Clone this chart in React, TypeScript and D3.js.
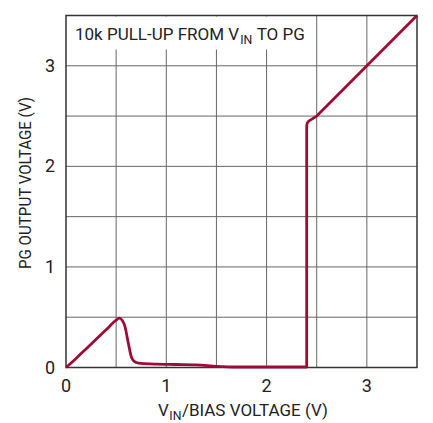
import React, { useLayoutEffect, useRef } from "react";
import * as d3 from "d3";

// PG output vs VIN/BIAS
// low part (before PG releases)
const vinLow = [0, 0.1, 0.2, 0.3, 0.4, 0.5, 0.53, 0.56, 0.59, 0.61, 0.63, 0.65, 0.67, 0.7, 0.75, 0.9, 1.1, 1.3, 1.5, 1.7, 2.0, 2.38, 2.4];
const pgLow = [0, 0.09, 0.185, 0.28, 0.375, 0.47, 0.49, 0.47, 0.4, 0.3, 0.2, 0.11, 0.07, 0.05, 0.04, 0.033, 0.03, 0.027, 0.012, 0.005, 0.005, 0.005, 0.005];
// high part (pulled up to VIN)
const vinHigh = [2.4, 2.4, 2.405, 2.42, 2.5, 3.0, 3.5];
const pgHigh = [0.005, 2.4, 2.43, 2.45, 2.5, 3.0, 3.5];

const xTicks = [0, 1, 2, 3];
const yTicks = [0, 1, 2, 3];
const gridSteps = [0.5, 1, 1.5, 2, 2.5, 3];

const titleParts = [
  { t: "10k PULL-UP FROM V", sub: false },
  { t: "IN", sub: true },
  { t: "TO PG", sub: false },
];
const xLabelParts = [
  { t: "V", sub: false },
  { t: "IN", sub: true },
  { t: "/BIAS VOLTAGE (V)", sub: false },
];

const W = 433;
const H = 423;
const margin = { top: 15.5, right: 16, bottom: 55.5, left: 66 };
const font = "Roboto, sans-serif";

// lays text pieces one after another (subscripts smaller and lower)
function RunText({ parts, x, y, size, gaps }: { parts: { t: string; sub: boolean }[]; x: number; y: number; size: number; gaps: number[] }) {
  const g = useRef<SVGGElement | null>(null);
  useLayoutEffect(() => {
    if (!g.current) return;
    let cx = x;
    d3.select(g.current)
      .selectAll<SVGTextElement, unknown>("text")
      .each(function (_, i) {
        this.setAttribute("x", String(cx));
        cx += this.getComputedTextLength() + (gaps[i] || 0);
      });
  }, [parts, x]);
  return (
    <g ref={g} fontFamily={font} fill="#222">
      {parts.map((p, i) => (
        <text key={i} x={x} y={p.sub ? y + 4 : y} fontSize={p.sub ? size * 0.72 : size}>
          {p.t}
        </text>
      ))}
    </g>
  );
}

export default function App() {
  const x = d3.scaleLinear().domain([0, 3.5]).range([margin.left, W - margin.right]);
  const y = d3.scaleLinear().domain([0, 3.5]).range([H - margin.bottom, margin.top]);
  const low = vinLow.map((v, i) => [v, pgLow[i]] as [number, number]);
  const high = vinHigh.map((v, i) => [v, pgHigh[i]] as [number, number]);
  const smooth = d3
    .line<[number, number]>()
    .x((d) => x(d[0]))
    .y((d) => y(d[1]))
    .curve(d3.curveMonotoneX);
  const straight = d3
    .line<[number, number]>()
    .x((d) => x(d[0]))
    .y((d) => y(d[1]));
  const path = (smooth(low) || "") + (straight(high) || "").replace(/^M/, "L");

  return (
    <svg width={W} height={H} style={{ position: "absolute", left: 0, top: 0, background: "#fff" }}>
      <g stroke="#666" strokeWidth={1}>
        {gridSteps.map((g) => (
          <line key={"vx" + g} x1={x(g)} x2={x(g)} y1={y(0)} y2={y(3.5)} />
        ))}
        {gridSteps.map((g) => (
          <line key={"hy" + g} x1={x(0)} x2={x(3.5)} y1={y(g)} y2={y(g)} />
        ))}
      </g>
      <rect x={x(0) + 1} y={y(3.5) + 1} width={x(2.5) - x(0) - 2.5} height={33} fill="#fff" />
      <RunText parts={titleParts} x={75} y={40} size={17} gaps={[1, 4.5]} />
      <rect
        x={x(0)}
        y={y(3.5)}
        width={x(3.5) - x(0)}
        height={y(0) - y(3.5)}
        fill="none"
        stroke="#333"
        strokeWidth={1.5}
      />
      <path d={path} fill="none" stroke="#9b0d36" strokeWidth={2.8} strokeLinejoin="round" />
      <g fontFamily={font} fontSize={18} fill="#222">
        {xTicks.map((t) => (
          <text key={"xt" + t} x={x(t)} y={y(0) + 24} textAnchor="middle">
            {t}
          </text>
        ))}
        {yTicks.map((t) => (
          <text key={"yt" + t} x={x(0) - 11} y={y(t) + 6} textAnchor="end">
            {t}
          </text>
        ))}
      </g>
      <RunText parts={xLabelParts} x={158} y={416} size={17} gaps={[0.5, 0.5]} />
      <text
        transform={`translate(31,269) rotate(-90)`}
        fontFamily={font}
        fontSize={17}
        fill="#222"
        textLength={172}
        lengthAdjust="spacingAndGlyphs"
      >
        PG OUTPUT VOLTAGE (V)
      </text>
    </svg>
  );
}
